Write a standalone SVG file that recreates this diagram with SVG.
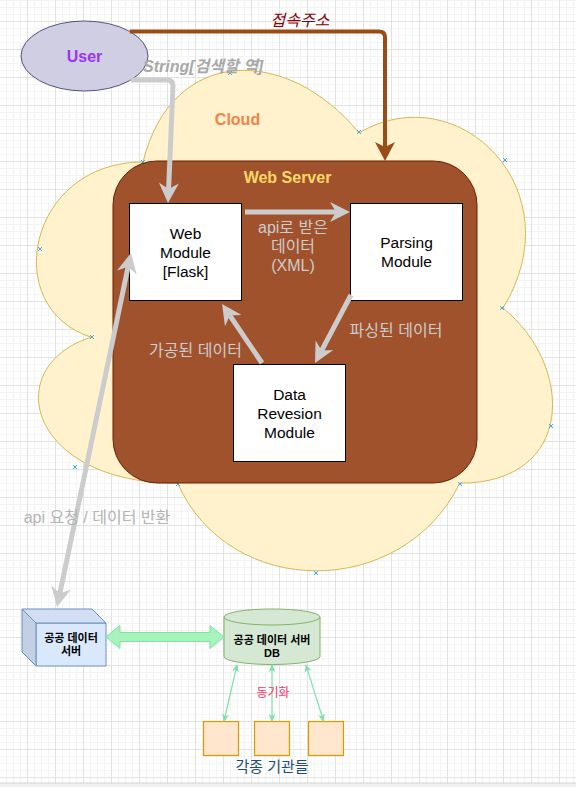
<svg xmlns="http://www.w3.org/2000/svg" width="576" height="787" viewBox="0 0 576 787">
  <style>
    text { font-family: "Liberation Sans", "Noto Sans CJK KR", sans-serif; }
    .box { fill: #ffffff; stroke: #000000; stroke-width: 1; }
    .boxtxt { font-size: 15.5px; fill: #000000; text-anchor: middle; }
    .gray { fill: none; stroke: #cccccc; stroke-width: 5; }
    .glabel { font-size: 16px; fill: #cccccc; text-anchor: middle; }
    .sync { fill: none; stroke: #7ee2a8; stroke-width: 1.2; marker-start: url(#ah-sync); marker-end: url(#ah-sync); }
    .org { fill: #ffe6cc; stroke: #d79b00; stroke-width: 1.2; }
    .pt { fill: none; stroke: #3fa9e0; stroke-width: 1; }
  </style>
  <defs>
    <pattern id="grid" patternUnits="userSpaceOnUse" x="27" y="21" width="28" height="28">
      <path d="M7.5,0 V28 M14.5,0 V28 M21.5,0 V28 M0,7.5 H28 M0,14.5 H28 M0,21.5 H28" stroke="#f4f4f4" stroke-width="1" fill="none"/>
      <path d="M0.5,0 V28 M0,0.5 H28" stroke="#e2e2e2" stroke-width="1" fill="none"/>
    </pattern>
    <marker id="ah-gray" markerUnits="userSpaceOnUse" markerWidth="20" markerHeight="20" refX="6" refY="10" orient="auto-start-reverse" overflow="visible">
      <path d="M0,0 L20,10 L0,20 L6,10 Z" fill="#cccccc"/>
    </marker>
    <marker id="ah-brown" markerUnits="userSpaceOnUse" markerWidth="19" markerHeight="20" refX="5" refY="10" orient="auto" overflow="visible">
      <path d="M0,0 L19,10 L0,20 L5,10 Z" fill="#994c16"/>
    </marker>
    <marker id="ah-sync" markerUnits="userSpaceOnUse" markerWidth="8" markerHeight="7" refX="7" refY="3.5" orient="auto-start-reverse" overflow="visible">
      <path d="M0,0 L8,3.5 L0,7 L2,3.5 Z" fill="#7ee2a8"/>
    </marker>
  </defs>

  <!-- background grid -->
  <rect x="0" y="0" width="576" height="787" fill="#ffffff"/>
  <rect x="0" y="0" width="576" height="783" fill="url(#grid)"/>
  <rect x="0" y="783" width="576" height="4" fill="#f0f0f0"/>
  <line x1="0" y1="783" x2="576" y2="783" stroke="#d4d4d4" stroke-width="1.2"/>

  <!-- Cloud -->
  <g id="cloud">
    <path d="M143,162 C27.8,162 -1,308 91.2,337.2 C-1,366.4 27.8,483.2 177.6,483.2 C229.4,600 402.2,600 459.8,483.2 C575,483.2 575,366.4 503,308 C575,191.2 459.8,74.4 359,132.8 C287,45.2 171.8,45.2 143,162 Z" fill="#fff2cc" stroke="#d6b656" stroke-width="1"/>
    <g class="pt">
      <path d="M141,160 l4,4 m0,-4 l-4,4"/>
      <path d="M228,71 l4,4 m0,-4 l-4,4"/>
      <path d="M357,130 l4,4 m0,-4 l-4,4"/>
      <path d="M503,158 l4,4 m0,-4 l-4,4"/>
      <path d="M38,247 l4,4 m0,-4 l-4,4"/>
      <path d="M90,335 l4,4 m0,-4 l-4,4"/>
      <path d="M500,306 l4,4 m0,-4 l-4,4"/>
      <path d="M73,465 l4,4 m0,-4 l-4,4"/>
      <path d="M549,424 l4,4 m0,-4 l-4,4"/>
      <path d="M176,482 l4,4 m0,-4 l-4,4"/>
      <path d="M458,482 l4,4 m0,-4 l-4,4"/>
      <path d="M314,571 l4,4 m0,-4 l-4,4"/>
    </g>
    <text x="237.5" y="125" font-size="16" font-weight="bold" fill="#f5814b" text-anchor="middle">Cloud</text>
  </g>

  <!-- Web Server -->
  <g id="web-server">
    <rect x="113" y="161" width="364" height="322" rx="44" ry="44" fill="#a0522d" stroke="#6d1f00" stroke-width="1"/>
    <text x="287.5" y="183" font-size="16" font-weight="bold" fill="#ffd966" text-anchor="middle">Web Server</text>
  </g>

  <!-- User -->
  <g id="user">
    <ellipse cx="84.5" cy="56" rx="63.5" ry="35" fill="#d0cee2" stroke="#56517e" stroke-width="1"/>
    <text x="84.5" y="61.5" font-size="16" font-weight="bold" fill="#9933ff" text-anchor="middle">User</text>
  </g>

  <g id="web-module">
    <rect class="box" x="129.5" y="203.5" width="112" height="97"/>
    <text class="boxtxt" x="185.5" y="239">Web</text>
    <text class="boxtxt" x="185.5" y="258">Module</text>
    <text class="boxtxt" x="185.5" y="277">[Flask]</text>
  </g>

  <g id="parsing-module">
    <rect class="box" x="350.5" y="203.5" width="112" height="97"/>
    <text class="boxtxt" x="406.5" y="248">Parsing</text>
    <text class="boxtxt" x="406.5" y="267">Module</text>
  </g>

  <g id="data-revesion-module">
    <rect class="box" x="233.5" y="364.5" width="112" height="97"/>
    <text class="boxtxt" x="289.5" y="399.5">Data</text>
    <text class="boxtxt" x="289.5" y="418.5">Revesion</text>
    <text class="boxtxt" x="289.5" y="437.5">Module</text>
  </g>

  <g id="public-data-server">
    <path d="M36,623 H106 V666 H36 Z" fill="#dae8fc" stroke="#6c8ebf" stroke-width="1"/>
    <path d="M22,609 H92 L106,623 H36 Z" fill="#d2dff2" stroke="#6c8ebf" stroke-width="1"/>
    <path d="M22,609 L36,623 V666 L22,652 Z" fill="#c3cfe3" stroke="#6c8ebf" stroke-width="1"/>
    <text x="71" y="642" font-size="11" font-weight="bold" fill="#000" text-anchor="middle">공공 데이터</text>
    <text x="71" y="655" font-size="11" font-weight="bold" fill="#000" text-anchor="middle">서버</text>
  </g>

  <g id="public-data-db">
    <path d="M224,617 A48,8 0 0 1 320,617 V656.5 A48,8 0 0 1 224,656.5 Z" fill="#d5e8d4" stroke="#82b366" stroke-width="1"/>
    <path d="M224,617 A48,8 0 0 0 320,617" fill="none" stroke="#82b366" stroke-width="1"/>
    <text x="272" y="644" font-size="11" font-weight="bold" fill="#000" text-anchor="middle">공공 데이터 서버</text>
    <text x="272" y="657" font-size="11" font-weight="bold" fill="#000" text-anchor="middle">DB</text>
  </g>

  <g id="agency-1"><rect class="org" x="203.5" y="721.5" width="35" height="34"/></g>
  <g id="agency-2"><rect class="org" x="254.5" y="721.5" width="35" height="34"/></g>
  <g id="agency-3"><rect class="org" x="308.5" y="721.5" width="35" height="34"/></g>
  <text x="272" y="772" font-size="15" fill="#1b4f72" text-anchor="middle">각종 기관들</text>

  <!-- connectors -->
  <g id="connectors">
    <path d="M129.8,31.5 H379 Q385,31.5 385,37.5 V147" fill="none" stroke="#994c16" stroke-width="4" marker-end="url(#ah-brown)"/>
    <text x="300" y="26" font-size="16" font-style="italic" fill="#8b0000" text-anchor="middle">접속주소</text>

    <path class="gray" d="M130.7,80 H167 Q173,80 173,86 L168.6,189" marker-end="url(#ah-gray)"/>
    <text x="143" y="72" font-size="16" font-style="italic" font-weight="bold" fill="#a8a8a8">String[검색할 역]</text>

    <path class="gray" d="M245,212 H336" marker-end="url(#ah-gray)"/>
    <text class="glabel" x="293" y="233">api로 받은</text>
    <text class="glabel" x="293" y="252">데이터</text>
    <text class="glabel" x="293" y="270.5">(XML)</text>

    <path class="gray" d="M351,295 L321.6,350.6" marker-end="url(#ah-gray)"/>
    <text class="glabel" x="396" y="335.5">파싱된 데이터</text>

    <path class="gray" d="M262,363 L229.9,315.6" marker-end="url(#ah-gray)"/>
    <text class="glabel" x="195.5" y="355.5">가공된 데이터</text>

    <path class="gray" d="M59.9,593.3 L128.1,266.7" marker-start="url(#ah-gray)" marker-end="url(#ah-gray)"/>
    <text x="97" y="523" font-size="16" fill="#b3b3b3" text-anchor="middle">api 요청 / 데이터 반환</text>

    <path d="M106,637 L120,625.5 V632.5 H210 V625.5 L224,637 L210,648.5 V641.5 H120 V648.5 Z" fill="#a6f3bb" stroke="#7fe39a" stroke-width="1"/>

    <path class="sync" d="M237,665 L224,721"/>
    <path class="sync" d="M272,665 V721"/>
    <path class="sync" d="M306,665 L323.5,721"/>
    <text x="273" y="697" font-size="12" fill="#ff3366" text-anchor="middle">동기화</text>
  </g>
</svg>
